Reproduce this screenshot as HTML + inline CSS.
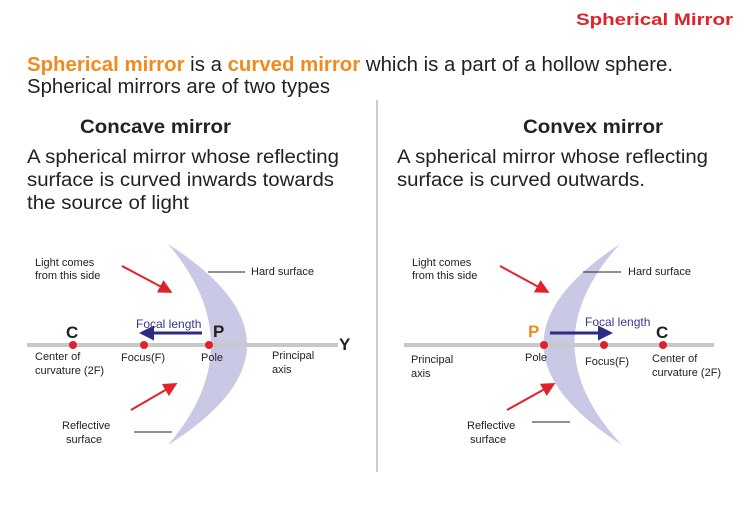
<!DOCTYPE html>
<html><head><meta charset="utf-8"><style>html,body{margin:0;padding:0;background:#fff}svg{display:block}</style></head><body>
<svg width="755" height="523" viewBox="0 0 755 523" xmlns="http://www.w3.org/2000/svg" font-family="Liberation Sans, Arial, sans-serif">
<defs>
<marker id="r" markerWidth="7" markerHeight="7" refX="5" refY="3.5" orient="auto" markerUnits="strokeWidth"><path d="M0,0 L7,3.5 L0,7 z" fill="#e0222b"/></marker>
<marker id="b" markerWidth="5" markerHeight="5" refX="4" refY="2.5" orient="auto" markerUnits="strokeWidth"><path d="M0,0 L5,2.5 L0,5 z" fill="#2e2a86"/></marker>
</defs>
<text x="576" y="25" font-size="17" font-weight="bold" fill="#e0222b" textLength="157" lengthAdjust="spacingAndGlyphs">Spherical Mirror</text>
<text x="27" y="71" font-size="20" fill="#222" textLength="646" lengthAdjust="spacingAndGlyphs"><tspan fill="#f28a1e" font-weight="bold">Spherical mirror</tspan> is a <tspan fill="#f28a1e" font-weight="bold">curved mirror</tspan> which is a part of a hollow sphere.</text>
<text x="27" y="93" font-size="20" fill="#222" textLength="303" lengthAdjust="spacingAndGlyphs">Spherical mirrors are of two types</text>
<line x1="377" y1="100" x2="377" y2="472" stroke="#aaa" stroke-width="1.2"/>
<text x="80" y="133" font-size="19" font-weight="bold" fill="#222" textLength="151" lengthAdjust="spacingAndGlyphs">Concave mirror</text>
<text x="523" y="133" font-size="19" font-weight="bold" fill="#222" textLength="140" lengthAdjust="spacingAndGlyphs">Convex mirror</text>
<g font-size="19" fill="#222">
<text x="27" y="163" textLength="312" lengthAdjust="spacingAndGlyphs">A spherical mirror whose reflecting</text>
<text x="27" y="186" textLength="307" lengthAdjust="spacingAndGlyphs">surface is curved inwards towards</text>
<text x="27" y="209" textLength="162" lengthAdjust="spacingAndGlyphs">the source of light</text>
<text x="397" y="163" textLength="311" lengthAdjust="spacingAndGlyphs">A spherical mirror whose reflecting</text>
<text x="397" y="186" textLength="248" lengthAdjust="spacingAndGlyphs">surface is curved outwards.</text>
</g>
<!-- left diagram -->
<path d="M168,244 Q326,345 168,445 Q254,345 168,244 Z" fill="#c9c9e6"/>
<line x1="27" y1="345" x2="338" y2="345" stroke="#c8c8c8" stroke-width="4"/>
<circle cx="73" cy="345" r="4" fill="#e0222b"/><circle cx="144" cy="345" r="4" fill="#e0222b"/><circle cx="209" cy="345" r="4" fill="#e0222b"/>
<line x1="122" y1="266" x2="169" y2="291" stroke="#e0222b" stroke-width="2" marker-end="url(#r)"/>
<line x1="131" y1="410" x2="174" y2="385" stroke="#e0222b" stroke-width="2" marker-end="url(#r)"/>
<line x1="202" y1="333" x2="142" y2="333" stroke="#2e2a86" stroke-width="3" marker-end="url(#b)"/>
<line x1="208" y1="272" x2="245" y2="272" stroke="#222" stroke-width="1"/>
<line x1="134" y1="432" x2="172" y2="432" stroke="#222" stroke-width="1"/>
<g font-size="11" fill="#222">
<text x="35" y="266">Light comes</text><text x="35" y="279">from this side</text>
<text x="251" y="275">Hard surface</text>
<text x="35" y="360">Center of</text><text x="35" y="374">curvature (2F)</text>
<text x="121" y="361">Focus(F)</text>
<text x="201" y="361">Pole</text>
<text x="272" y="359">Principal</text><text x="272" y="373">axis</text>
<text x="62" y="429">Reflective</text><text x="66" y="443">surface</text>
</g>
<text x="136" y="328" font-size="12" fill="#3a3590">Focal length</text>
<text x="66" y="338" font-size="17" font-weight="bold" fill="#222">C</text>
<text x="213" y="337" font-size="17" font-weight="bold" fill="#222">P</text>
<text x="339" y="350" font-size="17" font-weight="bold" fill="#222">Y</text>
<!-- right diagram -->
<path d="M620,244 Q466,345 622,445 Q528,345 620,244 Z" fill="#c9c9e6"/>
<line x1="404" y1="345" x2="714" y2="345" stroke="#c8c8c8" stroke-width="4"/>
<circle cx="544" cy="345" r="4" fill="#e0222b"/><circle cx="604" cy="345" r="4" fill="#e0222b"/><circle cx="663" cy="345" r="4" fill="#e0222b"/>
<line x1="500" y1="266" x2="546" y2="291" stroke="#e0222b" stroke-width="2" marker-end="url(#r)"/>
<line x1="507" y1="410" x2="552" y2="385" stroke="#e0222b" stroke-width="2" marker-end="url(#r)"/>
<line x1="550" y1="333" x2="610" y2="333" stroke="#2e2a86" stroke-width="3" marker-end="url(#b)"/>
<line x1="583" y1="272" x2="621" y2="272" stroke="#222" stroke-width="1"/>
<line x1="532" y1="422" x2="570" y2="422" stroke="#222" stroke-width="1"/>
<g font-size="11" fill="#222">
<text x="412" y="266">Light comes</text><text x="412" y="279">from this side</text>
<text x="628" y="275">Hard surface</text>
<text x="411" y="363">Principal</text><text x="411" y="377">axis</text>
<text x="525" y="361">Pole</text>
<text x="585" y="365">Focus(F)</text>
<text x="652" y="362">Center of</text><text x="652" y="376">curvature (2F)</text>
<text x="467" y="429">Reflective</text><text x="470" y="443">surface</text>
</g>
<text x="585" y="326" font-size="12" fill="#3a3590">Focal length</text>
<text x="528" y="337" font-size="17" font-weight="bold" fill="#f28a1e">P</text>
<text x="656" y="338" font-size="17" font-weight="bold" fill="#222">C</text>
</svg>
</body></html>
